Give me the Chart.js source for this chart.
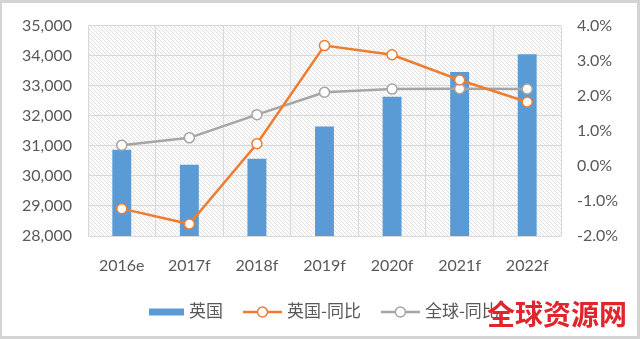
<!DOCTYPE html>
<html>
<head>
<meta charset="utf-8">
<script src="https://cdn.jsdelivr.net/npm/chart.js@4.4.0/dist/chart.umd.min.js"></script>
<style>
  html, body { margin: 0; padding: 0; background: #fff; }
  canvas { display: block; }
</style>
</head>
<body>
<canvas id="myChart" width="640" height="339"></canvas>
<script>
const anios = ["2016e", "2017f", "2018f", "2019f", "2020f", "2021f", "2022f"];
const ventasUK = [30870, 30370, 30570, 31640, 32630, 33460, 34050];
const crecimientoUK = [-1.22, -1.66, 0.63, 3.43, 3.17, 2.45, 1.82];
const crecimientoGlobal = [0.59, 0.80, 1.46, 2.10, 2.19, 2.20, 2.19];
const ticksIzq = [28000, 29000, 30000, 31000, 32000, 33000, 34000, 35000];
const ticksDer = [-2, -1, 0, 1, 2, 3, 4];

const gris = "#595959";
const azul = "#5B9BD5";
const naranja = "#ED7D31";
const grisLinea = "#A5A5A5";

const ctx = document.getElementById("myChart");

// trama diagonal del fondo del area de trazado
const trama = (() => {
  const c = document.createElement("canvas");
  c.width = 4;
  c.height = 4;
  const g = c.getContext("2d");
  g.fillStyle = "#fbfbfb";
  g.fillRect(0, 0, 4, 4);
  g.strokeStyle = "#e2e2e2";
  g.lineWidth = 1;
  g.beginPath();
  g.moveTo(-1, -1);
  g.lineTo(5, 5);
  g.stroke();
  return c;
})();

const fondo = {
  id: "fondo",
  beforeDraw(chart) {
    const c = chart.ctx;
    const a = chart.chartArea;
    c.save();
    c.fillStyle = "#d4d4d4";
    c.fillRect(0, 0, chart.width, chart.height);
    c.fillStyle = "#ffffff";
    c.fillRect(2, 3, chart.width - 5, chart.height - 6);
    c.fillStyle = c.createPattern(trama, "repeat");
    c.fillRect(a.left, a.top, a.right - a.left, a.bottom - a.top);
    c.restore();
  },
};

const leyenda = {
  id: "leyenda",
  afterDraw(chart) {
    const c = chart.ctx;
    const y = 312;
    let x = 149;
    c.save();
    c.font = '17px "Noto Sans CJK SC"';
    c.textBaseline = "middle";
    chart.data.datasets.forEach((ds) => {
      if (ds.type === "bar") {
        c.fillStyle = ds.backgroundColor;
        c.fillRect(x, y - 3.5, 35, 7);
        x += 35;
      } else {
        c.strokeStyle = ds.borderColor;
        c.lineWidth = 2.5;
        c.beginPath();
        c.moveTo(x, y);
        c.lineTo(x + 39, y);
        c.stroke();
        c.beginPath();
        c.arc(x + 19.5, y, 5, 0, Math.PI * 2);
        c.fillStyle = "#fff";
        c.fill();
        c.lineWidth = 1.5;
        c.stroke();
        x += 39;
      }
      x += 5;
      c.fillStyle = gris;
      c.fillText(ds.label, x, y - 1);
      x += c.measureText(ds.label).width + 20;
    });
    // marca de agua
    c.font = 'bold 28px "Noto Sans CJK SC"';
    c.fillStyle = "#e1252d";
    c.fillText("全球资源网", 487, 314);
    c.restore();
  },
};

new Chart(ctx, {
  data: {
    labels: anios,
    datasets: [
      {
        type: "bar",
        label: "英国",
        data: ventasUK,
        backgroundColor: azul,
        yAxisID: "y",
        categoryPercentage: 1,
        barPercentage: 0.28,
        order: 3,
      },
      {
        type: "line",
        label: "英国-同比",
        data: crecimientoUK,
        borderColor: naranja,
        borderWidth: 2.5,
        pointRadius: 5,
        pointBorderWidth: 1.5,
        pointBackgroundColor: "#fff",
        pointBorderColor: naranja,
        yAxisID: "y1",
        order: 1,
      },
      {
        type: "line",
        label: "全球-同比",
        data: crecimientoGlobal,
        borderColor: grisLinea,
        borderWidth: 2.5,
        pointRadius: 5,
        pointBorderWidth: 1.5,
        pointBackgroundColor: "#fff",
        pointBorderColor: grisLinea,
        yAxisID: "y1",
        order: 2,
      },
    ],
  },
  options: {
    responsive: false,
    animation: false,
    devicePixelRatio: 1,
    layout: { padding: { top: 21, left: 0, right: 0, bottom: 0 } },
    plugins: {
      legend: { display: false },
      tooltip: { enabled: false },
    },
    scales: {
      x: {
        offset: true,
        grid: { color: "#d9d9d9", offset: true, drawTicks: false },
        border: { display: false },
        ticks: {
          color: gris,
          font: { family: "Lato", size: 16 },
          padding: 20,
        },
        afterFit: (s) => { s.height = 103; },
      },
      y: {
        position: "left",
        min: ticksIzq[0],
        max: ticksIzq[ticksIzq.length - 1],
        grid: { color: "#d9d9d9", drawTicks: false },
        border: { display: false },
        ticks: {
          stepSize: ticksIzq[1] - ticksIzq[0],
          color: gris,
          font: { family: "Lato", size: 16 },
          padding: 16,
          callback: (v) => v.toLocaleString("en-US"),
        },
        afterFit: (s) => { s.width = 88; },
      },
      y1: {
        position: "right",
        min: ticksDer[0],
        max: ticksDer[ticksDer.length - 1],
        grid: { display: false, drawTicks: false },
        border: { display: false },
        ticks: {
          stepSize: ticksDer[1] - ticksDer[0],
          color: gris,
          font: { family: "Lato", size: 16 },
          padding: 16,
          callback: (v) => v.toFixed(1) + "%",
        },
        afterFit: (s) => { s.width = 79; },
      },
    },
  },
  plugins: [fondo, leyenda],
});
</script>
</body>
</html>
